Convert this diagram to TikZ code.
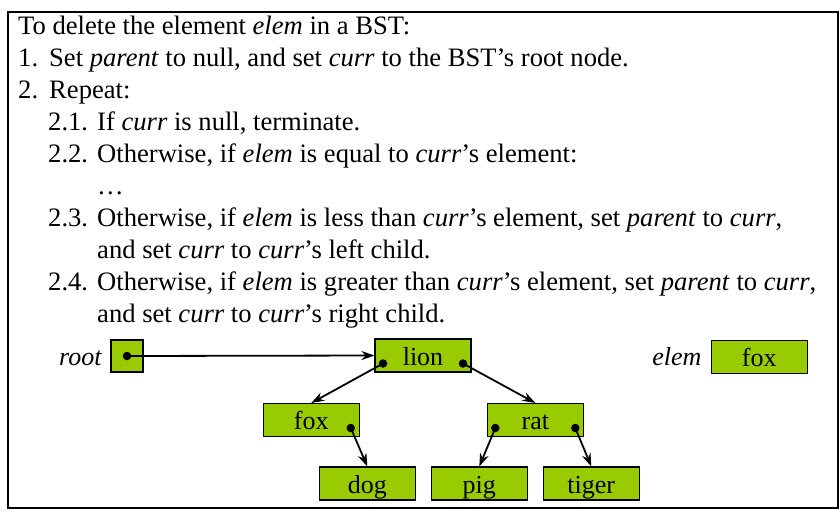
\documentclass[tikz,border=0pt]{standalone}
\usepackage{fontspec}
\setmainfont{Liberation Serif}
\usetikzlibrary{arrows.meta}
\definecolor{boxgreen}{HTML}{99CC00}
\begin{document}
\begin{tikzpicture}[x=1pt,y=-1pt,
  txt/.style={anchor=base west,inner sep=0pt,font=\fontsize{26.6}{32}\selectfont},
  lbl/.style={anchor=base east,inner sep=0pt,font=\fontsize{26}{30}\selectfont\itshape},
  cell/.style={draw=black,line width=1.1pt,fill=boxgreen,minimum width=96pt,minimum height=33pt,
    inner sep=0pt,text height=20pt,text depth=1pt,font=\fontsize{26}{30}\selectfont},
  ptr/.style={line width=1.8pt,-{Stealth[length=13pt,width=9pt]}},
  dot/.style={circle,fill=black,inner sep=0pt,minimum size=8.5pt}]
\useasboundingbox (0,0) rectangle (840,515);
\draw[line width=1.3pt] (8,12) rectangle (838,508);
% text
\node[txt] (t1) at (18,34) {To delete the element \textit{elem} in a BST:};
\node[txt] (n1) at (18,66) {1.};
\node[txt] (t2) at (49,66) {Set \textit{parent} to null, and set \textit{curr} to the BST’s root node.};
\node[txt] (n2) at (18,98) {2.};
\node[txt] (t3) at (49,98) {Repeat:};
\node[txt] (n21) at (48,130) {2.1.};
\node[txt] (t4) at (97,130) {If \textit{curr} is null, terminate.};
\node[txt] (n22) at (48,162) {2.2.};
\node[txt] (t5) at (97,162) {Otherwise, if \textit{elem} is equal to \textit{curr}’s element:};
\node[txt] (t6) at (97,194) {…};
\node[txt] (n23) at (48,226) {2.3.};
\node[txt] (t7) at (97,226) {Otherwise, if \textit{elem} is less than \textit{curr}’s element, set \textit{parent} to \textit{curr},};
\node[txt] (t8) at (97,258) {and set \textit{curr} to \textit{curr}’s left child.};
\node[txt] (n24) at (48,290) {2.4.};
\node[txt] (t9) at (97,290) {Otherwise, if \textit{elem} is greater than \textit{curr}’s element, set \textit{parent} to \textit{curr},};
\node[txt] (t10) at (97,322) {and set \textit{curr} to \textit{curr}’s right child.};
% tree
\node[lbl] (rootlbl) at (101.7,365) {root};
\node[cell,minimum width=32pt,minimum height=32pt] (root) at (127,356) {};
\node[cell] (lion) at (423,355.5) {lion};
\node[cell] (fox) at (311.3,420) {fox};
\node[cell] (rat) at (535.3,420) {rat};
\node[cell] (dog) at (367.3,483.5) {dog};
\node[cell] (pig) at (479.3,483.5) {pig};
\node[cell] (tiger) at (591.3,483.5) {tiger};
\node[lbl] (elemlbl) at (701.7,365) {elem};
\node[cell] (elemfox) at (759.3,357) {fox};
% pointer dots
\node[dot] (rootD) at (root.center) {};
\node[dot] (lionL) at ([xshift=-40pt,yshift=-8pt]lion.center) {};
\node[dot] (lionR) at ([xshift=40pt,yshift=-8pt]lion.center) {};
\node[dot] (foxR) at ([xshift=39.5pt,yshift=-8pt]fox.center) {};
\node[dot] (ratL) at ([xshift=-40pt,yshift=-8pt]rat.center) {};
\node[dot] (ratR) at ([xshift=40pt,yshift=-8pt]rat.center) {};
% pointers
\draw[ptr] (rootD.center) -- (lion.west);
\draw[ptr] (lionL.center) -- (fox.north);
\draw[ptr] (lionR.center) -- (rat.north);
\draw[ptr] (foxR.center) -- (dog.north);
\draw[ptr] (ratL.center) -- (pig.north);
\draw[ptr] (ratR.center) -- (tiger.north);
\end{tikzpicture}
\end{document}
